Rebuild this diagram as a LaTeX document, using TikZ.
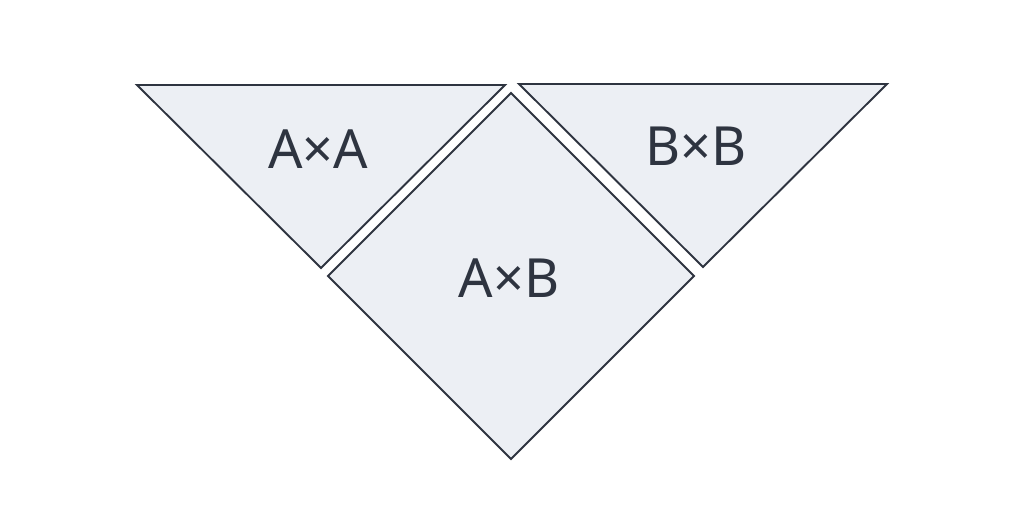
\documentclass[tikz,border=0pt]{standalone}
\usepackage{fontspec}
\setmainfont{Noto Sans}
\definecolor{fillc}{HTML}{ECEFF4}
\definecolor{linec}{HTML}{2E3440}
\begin{document}
\begin{tikzpicture}[x=1pt,y=-1pt,
  piece/.style={fill=fillc,draw=linec,line width=1.9pt,line join=miter},
  lbl/.style={text=linec,font=\fontsize{54}{64}\selectfont,inner sep=0pt,anchor=base}]
\useasboundingbox (0,0) rectangle (1022,517);
\draw[piece] (137,85) -- (505,85) -- (321,268) -- cycle;
\draw[piece] (519,84) -- (887,84) -- (703,267) -- cycle;
\draw[piece] (511,93) -- (694,276) -- (511,459) -- (328,276) -- cycle;
\node[lbl] (aa) at (318,168) {A×A};
\node[lbl] (bb) at (696,165) {B×B};
\node[lbl] (ab) at (509,297) {A×B};
\end{tikzpicture}
\end{document}
